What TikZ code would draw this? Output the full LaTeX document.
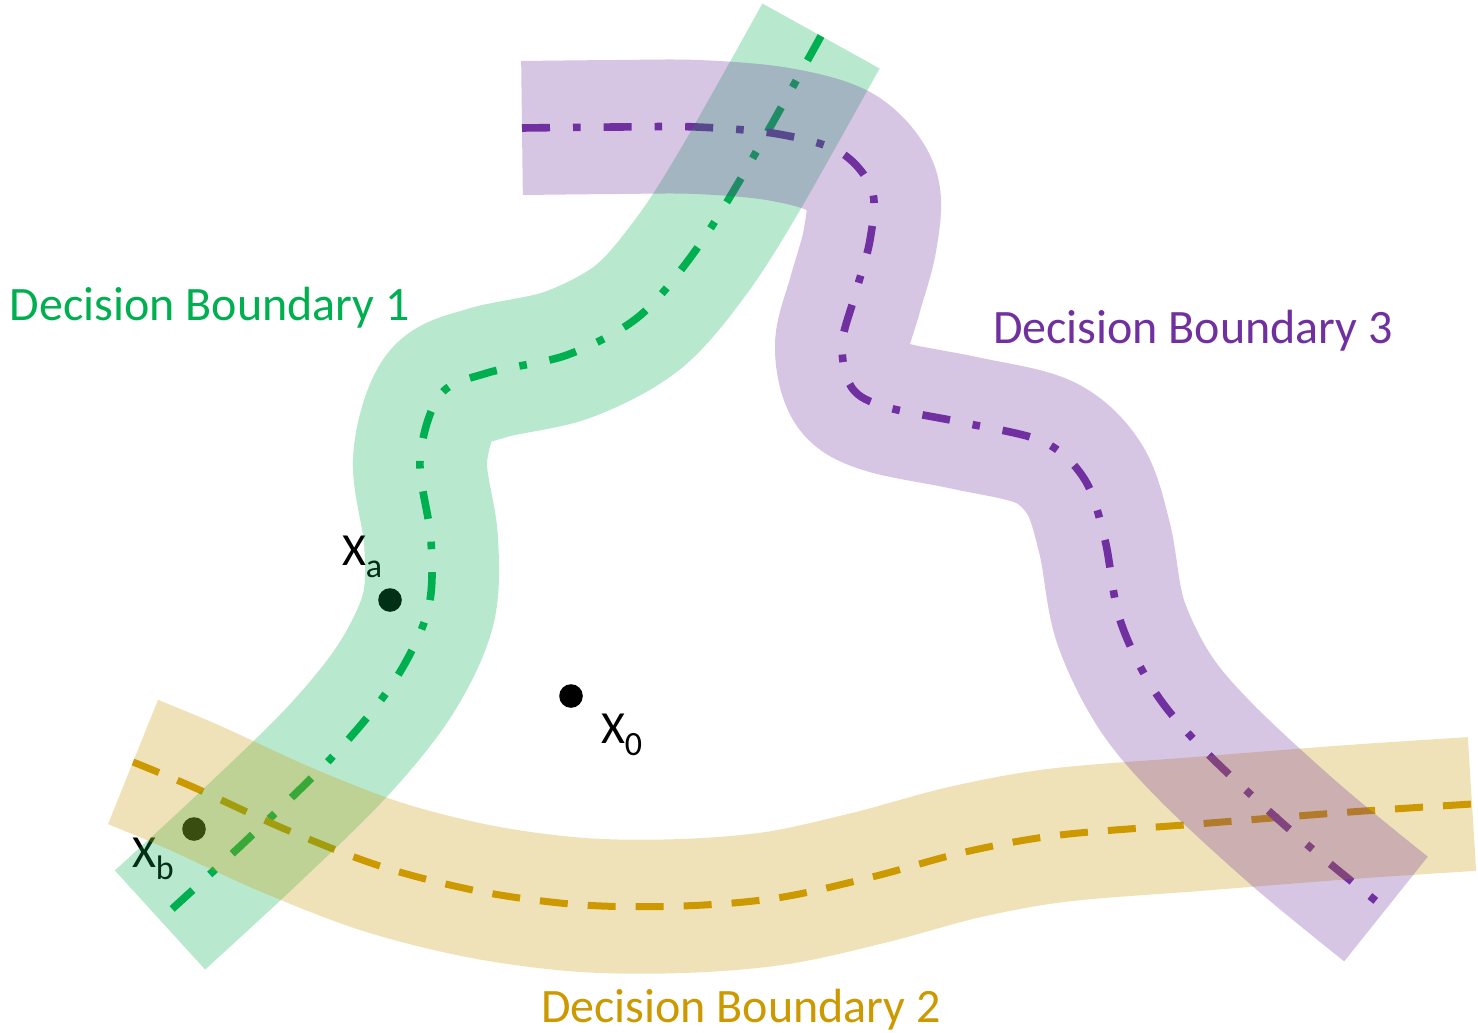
\documentclass[tikz,border=0pt]{standalone}
\usepackage{fontspec}
\setmainfont{Carlito}
\definecolor{dbgreen}{HTML}{00B050}
\definecolor{dbpurple}{HTML}{7030A0}
\definecolor{dbgold}{HTML}{CC9900}
\tikzset{
  band/.style={line width=67pt, line cap=butt, line join=round, draw opacity=0.28},
  dashdot/.style={line width=3.8pt, line cap=butt, dash pattern=on 14pt off 11.5pt on 3.8pt off 11.5pt},
  dashgold/.style={line width=3.5pt, line cap=butt, dash pattern=on 14pt off 10pt},
  blabel/.style={inner sep=0pt, outer sep=0pt, anchor=base west, font=\fontsize{24pt}{28pt}\selectfont},
  xlabel/.style={inner sep=0pt, outer sep=0pt, anchor=base west, font=\fontsize{23pt}{26pt}\selectfont},
  dot/.style={circle, fill=black, inner sep=0pt, minimum size=11.8pt}
}
\newcommand{\subx}[1]{\raisebox{-6pt}{\fontsize{17pt}{17pt}\selectfont #1}}
\begin{document}
\begin{tikzpicture}[x=0.5pt, y=-0.5pt]
\fill[white] (0,0) rectangle (1478,1033);
\useasboundingbox (0,0) rectangle (1478,1033);

% points and their labels (under the bands)
\node[dot] (xa) at (390,600) {};
\node[dot] (x0) at (571,696) {};
\node[dot] (xb) at (194,829) {};
\node[xlabel] (la) at (342,565) {X\subx{a}};
\node[xlabel] (l0) at (601,743) {X\subx{0}};
\node[xlabel] (lb) at (132,867) {X\subx{b}};

% centre lines
\draw[dashdot, dbgreen] plot[smooth, tension=0.55] coordinates {(821,36) (740,180) (690,258) (637,318) (567,355) (487,373) (440,395) (420,460) (431,540) (428,610) (395,680) (337,752) (250,837) (160,920)};
\draw[dashgold, dbgold] plot[smooth, tension=0.55] coordinates {(133,762) (193,787) (287,830) (383,867) (483,892) (583,905) (682,906) (777,898) (872,877) (965,852) (1060,835) (1197,824) (1350,812) (1472,804)};
\draw[dashdot, dbpurple] plot[smooth, tension=0.55] coordinates {(522,128) (617,127) (697,127) (778,134) (840,152) (872,190) (870,240) (855,295) (842,345) (852,388) (886,407) (965,423) (1044,442) (1085,480) (1105,540) (1120,620) (1155,692) (1207,753) (1297,836) (1386,909)};

% bands
\draw[band, dbgreen] plot[smooth, tension=0.55] coordinates {(821,36) (740,180) (690,258) (637,318) (567,355) (487,373) (440,395) (420,460) (431,540) (428,610) (395,680) (337,752) (250,837) (160,920)};
\draw[band, dbgold] plot[smooth, tension=0.55] coordinates {(133,762) (193,787) (287,830) (383,867) (483,892) (583,905) (682,906) (777,898) (872,877) (965,852) (1060,835) (1197,824) (1350,812) (1472,804)};
\draw[band, dbpurple] plot[smooth, tension=0.55] coordinates {(522,128) (617,127) (697,127) (778,134) (840,152) (872,190) (870,240) (855,295) (842,345) (852,388) (886,407) (965,423) (1044,442) (1085,480) (1105,540) (1120,620) (1155,692) (1207,753) (1297,836) (1386,909)};

% boundary labels
\node[blabel, text=dbgreen] (db1) at (10,320) {Decision Boundary 1};
\node[blabel, text=dbpurple] (db3) at (993,343) {Decision Boundary 3};
\node[blabel, text=dbgold] (db2) at (541,1022) {Decision Boundary 2};
\end{tikzpicture}
\end{document}
